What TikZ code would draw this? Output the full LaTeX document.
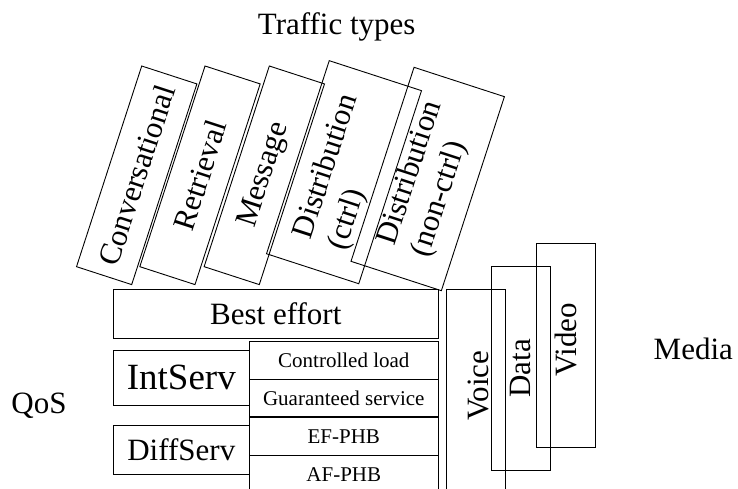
\documentclass[tikz,border=0pt]{standalone}
\usepackage{fontspec}
\setmainfont{Liberation Serif}
\begin{document}
\begin{tikzpicture}[x=1pt,y=-1pt,line width=0.9pt,
  big/.style={font=\fontsize{31}{36}\selectfont},
  huge/.style={font=\fontsize{37}{42}\selectfont},
  small/.style={font=\fontsize{21}{25}\selectfont},
  tiltbox/.style={draw,rotate=72,inner sep=0pt,big,align=left},
  flatbox/.style={draw,inner sep=0pt},
  plain/.style={inner sep=0pt}]
\useasboundingbox (0,0) rectangle (738,489);
\clip (0,0) rectangle (738,489);
% title labels
\node[plain,big,anchor=base] (tt) at (336.7,35) {Traffic types};
\node[plain,big,anchor=base] (media) at (693.3,359.3) {Media};
\node[plain,big,anchor=base east] (qos) at (67,413) {QoS};
% tilted traffic type boxes
\node[tiltbox,minimum width=211pt,minimum height=58pt] (conv) at (136.7,175.3) {Conversational};
\node[tiltbox,minimum width=211pt,minimum height=58pt] (retr) at (200.0,175.3) {Retrieval};
\node[tiltbox,minimum width=211pt,minimum height=58pt] (msg) at (264.3,175.3) {Message};
\node[tiltbox,minimum width=203pt,minimum height=97pt] (dctrl) at (344.0,172.2) {Distribution\\(ctrl)};
\node[tiltbox,minimum width=204pt,minimum height=95pt] (dnon) at (427.7,179.0) {Distribution\\(non-ctrl)};
% QoS boxes
\node[flatbox,big,minimum width=325pt,minimum height=49pt] (best) at (275.8,313.8) {Best effort};
\node[flatbox,huge,minimum width=136pt,minimum height=55.7pt] (int) at (181.3,377.9) {IntServ};
\node[flatbox,big,minimum width=136pt,minimum height=48.6pt] (diff) at (181.3,450.0) {DiffServ};
\node[flatbox,small,minimum width=189pt,minimum height=37.3pt] (cl) at (343.8,360.4) {Controlled load};
\node[flatbox,small,minimum width=189pt,minimum height=37pt] (gs) at (343.8,398.2) {Guaranteed service};
\node[flatbox,small,minimum width=189pt,minimum height=37.3pt] (ef) at (343.8,436.4) {EF-PHB};
\node[flatbox,small,minimum width=189pt,minimum height=37.3pt] (af) at (343.8,474.4) {AF-PHB};
% media boxes
\node[flatbox,minimum width=59pt,minimum height=230pt] (voice) at (475.5,404.3) {};
\node[flatbox,minimum width=58.3pt,minimum height=203.3pt] (data) at (520.8,368.3) {};
\node[flatbox,minimum width=58.3pt,minimum height=204pt] (video) at (565.8,345.3) {};
\node[plain,big,rotate=90,anchor=base] (voicet) at (488.3,385.8) {Voice};
\node[plain,big,rotate=90] (datat) at (data.center) {Data};
\node[plain,big,rotate=90,anchor=base] (videot) at (576.7,340) {Video};
\end{tikzpicture}
\end{document}
